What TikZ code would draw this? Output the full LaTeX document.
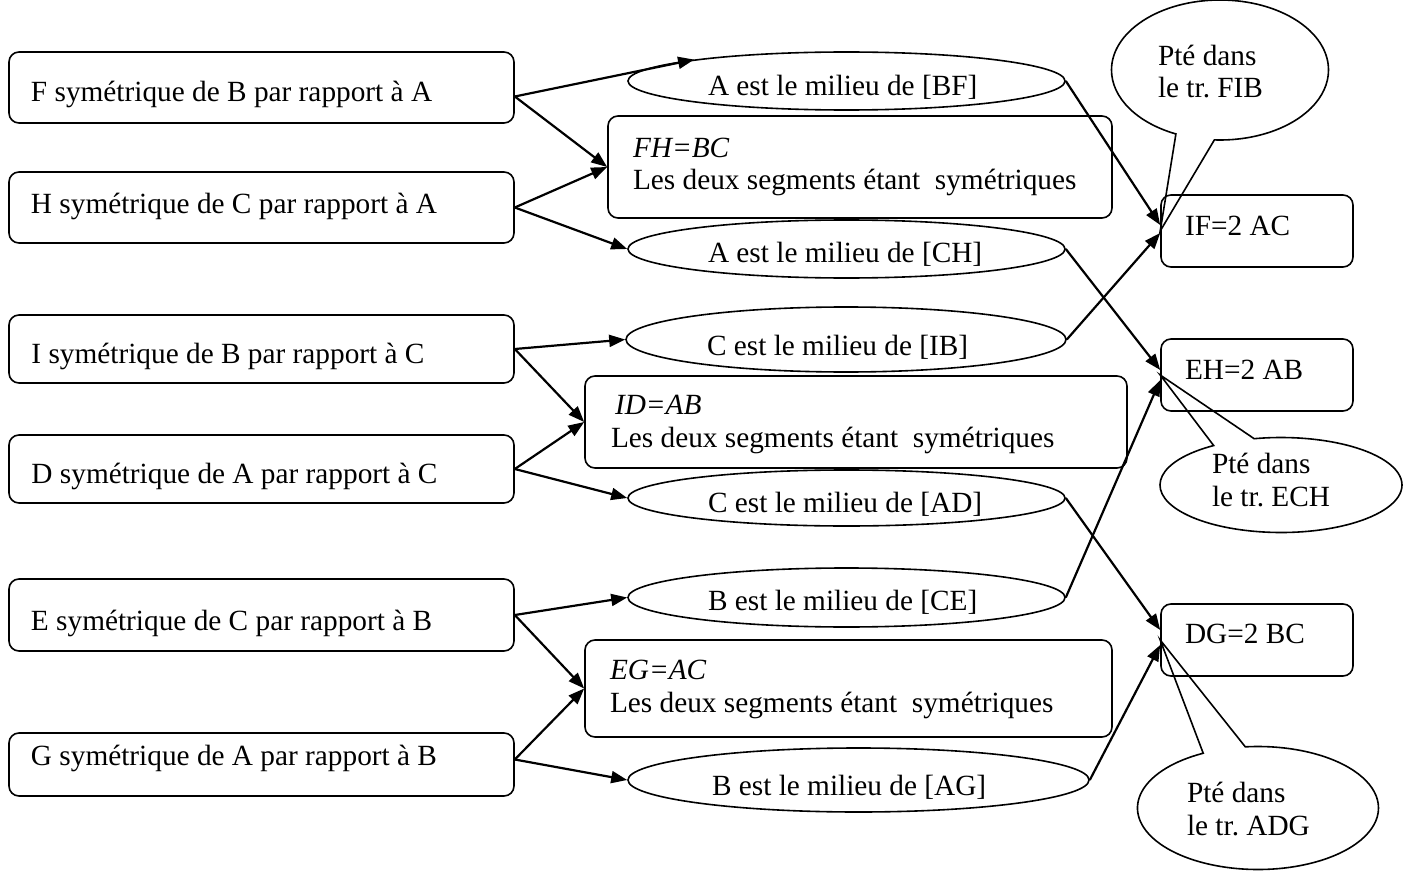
\documentclass[tikz,border=0pt]{standalone}
\usepackage{fontspec}
\setmainfont{Liberation Serif}
\usetikzlibrary{shapes.geometric,shapes.callouts,arrows.meta}
% width of text box, height, depth, content (text starts at left of box)
\newcommand\tb[4]{\raisebox{0pt}[#2][#3]{\makebox[#1][l]{#4}}}
\newcommand\twolines[2]{\begin{tabular}[b]{@{}l@{}}#1\\#2\end{tabular}}
\frenchspacing
\begin{document}
\begin{tikzpicture}[x=0.5pt,y=-0.5pt,
  font=\fontsize{14.65}{16.5}\selectfont,
  lbox/.style={draw, rounded corners=5pt, line width=0.8pt, inner sep=0pt, minimum width=252.5pt},
  rbox/.style={draw, rounded corners=5pt, line width=0.8pt, inner sep=0pt},
  ell/.style={ellipse, draw, line width=0.8pt, inner sep=0pt},
  cal/.style={ellipse callout, draw, line width=0.8pt, inner sep=0pt, callout pointer arc=21},
  arr/.style={-{Triangle[length=8pt,width=6pt]}, line width=1.1pt}]
\useasboundingbox (0,0) rectangle (1409,872);

% left boxes
\node[lbox, minimum height=35.5pt] (F) at (261.5,87.5) {\tb{230.5pt}{14.5pt}{0pt}{F symétrique de B par rapport à A}};
\node[lbox, minimum height=35.5pt] (H) at (261.5,207.5) {\tb{230.5pt}{6pt}{0pt}{H symétrique de C par rapport à A}};
\node[lbox, minimum height=34pt] (I) at (261.5,349) {\tb{230pt}{14pt}{0pt}{I symétrique de B par rapport à C}};
\node[lbox, minimum height=34pt] (D) at (261.5,469) {\tb{230pt}{14pt}{0pt}{D symétrique de A par rapport à C}};
\node[lbox, minimum height=36pt] (E) at (261.5,615) {\tb{230.5pt}{15pt}{0pt}{E symétrique de C par rapport à B}};
\node[lbox, minimum height=31.5pt] (G) at (261.5,764.5) {\tb{230.5pt}{0.5pt}{0pt}{G symétrique de A par rapport à B}};

% middle boxes
\node[rbox, minimum width=252pt, minimum height=51pt] (FH) at (860,167)
  {\tb{227pt}{23pt}{0pt}{\twolines{\textit{FH=BC}}{Les deux segments étant\ \ symétriques}}};
\node[rbox, minimum width=271pt, minimum height=46pt] (ID) at (856,422)
  {\tb{245pt}{25pt}{0pt}{\twolines{\hspace{2pt}\textit{ID=AB}}{Les deux segments étant\ \ symétriques}}};
\node[rbox, minimum width=263.5pt, minimum height=48.5pt] (EG) at (848.5,688.5)
  {\tb{238.5pt}{23.5pt}{0pt}{\twolines{\textit{EG=AC}}{Les deux segments étant\ \ symétriques}}};

% ellipses
\node[ell, minimum width=218.5pt, minimum height=29pt] (BF) at (846.5,81) {\tb{138.5pt}{15pt}{-7pt}{A est le milieu de [BF]}};
\node[ell, minimum width=218.5pt, minimum height=29pt] (CH) at (846.5,249) {\tb{138.5pt}{13pt}{0pt}{A est le milieu de [CH]}};
\node[ell, minimum width=220pt, minimum height=32.5pt] (IB) at (846,339.5) {\tb{139pt}{15.5pt}{0pt}{C est le milieu de [IB]}};
\node[ell, minimum width=218.5pt, minimum height=28pt] (AD) at (846.5,498) {\tb{138.5pt}{14pt}{0pt}{C est le milieu de [AD]}};
\node[ell, minimum width=218.5pt, minimum height=29.5pt] (CE) at (846.5,597.5) {\tb{138.5pt}{12.5pt}{0pt}{B est le milieu de [CE]}};
\node[ell, minimum width=230.5pt, minimum height=32pt] (AG) at (858.5,780) {\tb{146.5pt}{15pt}{0pt}{B est le milieu de [AG]}};

% right boxes
\node[rbox, minimum width=96pt, minimum height=36pt] (IF) at (1257,231) {\tb{72pt}{4pt}{0pt}{IF=2 AC}};
\node[rbox, minimum width=96pt, minimum height=36pt] (EH) at (1257,375) {\tb{72pt}{4pt}{0pt}{EH=2 AB}};
\node[rbox, minimum width=96pt, minimum height=36pt] (DG) at (1257,640) {\tb{72pt}{3pt}{0pt}{DG=2 BC}};

% callouts
\node[cal, minimum width=108.5pt, minimum height=70pt, callout absolute pointer={(IF.west)}] (c1) at (1220,70)
  {\tb{62pt}{28pt}{0pt}{\twolines{Pté dans}{le tr. FIB}}};
\node[cal, minimum width=121pt, minimum height=47.5pt, callout absolute pointer={(EH.west)}] (c2) at (1281,485)
  {\tb{69pt}{21.5pt}{-13.5pt}{\twolines{Pté dans}{le tr. ECH}}};
\node[cal, minimum width=120.5pt, minimum height=61.5pt, callout absolute pointer={(DG.west)}] (c3) at (1258,808)
  {\tb{71pt}{27pt}{0pt}{\twolines{Pté dans}{le tr. ADG}}};

% left arrows
\draw[arr] ([yshift=-4.5pt]F.east) -- (BF.172.5);
\draw[arr] ([yshift=-4.5pt]F.east) -- (FH.west);
\draw[arr] (H.east) -- (FH.west);
\draw[arr] (H.east) -- (CH.west);
\draw[arr] (I.east) -- (IB.west);
\draw[arr] (I.east) -- (ID.west);
\draw[arr] (D.east) -- (ID.west);
\draw[arr] (D.east) -- (AD.west);
\draw[arr] (E.east) -- (CE.west);
\draw[arr] (E.east) -- (EG.west);
\draw[arr] ([yshift=2.5pt]G.east) -- (EG.west);
\draw[arr] ([yshift=2.5pt]G.east) -- (AG.west);

% right arrows
\draw[arr] (BF.east) -- ([yshift=3pt]IF.west);
\draw[arr] (IB.east) -- ([yshift=-1pt]IF.west);
\draw[arr] (CH.east) -- ([yshift=2.5pt]EH.west);
\draw[arr] (CE.east) -- ([yshift=-2.5pt]EH.west);
\draw[arr] (AD.east) -- ([yshift=5pt]DG.west);
\draw[arr] (AG.east) -- ([yshift=-2.5pt]DG.west);
\end{tikzpicture}
\end{document}
